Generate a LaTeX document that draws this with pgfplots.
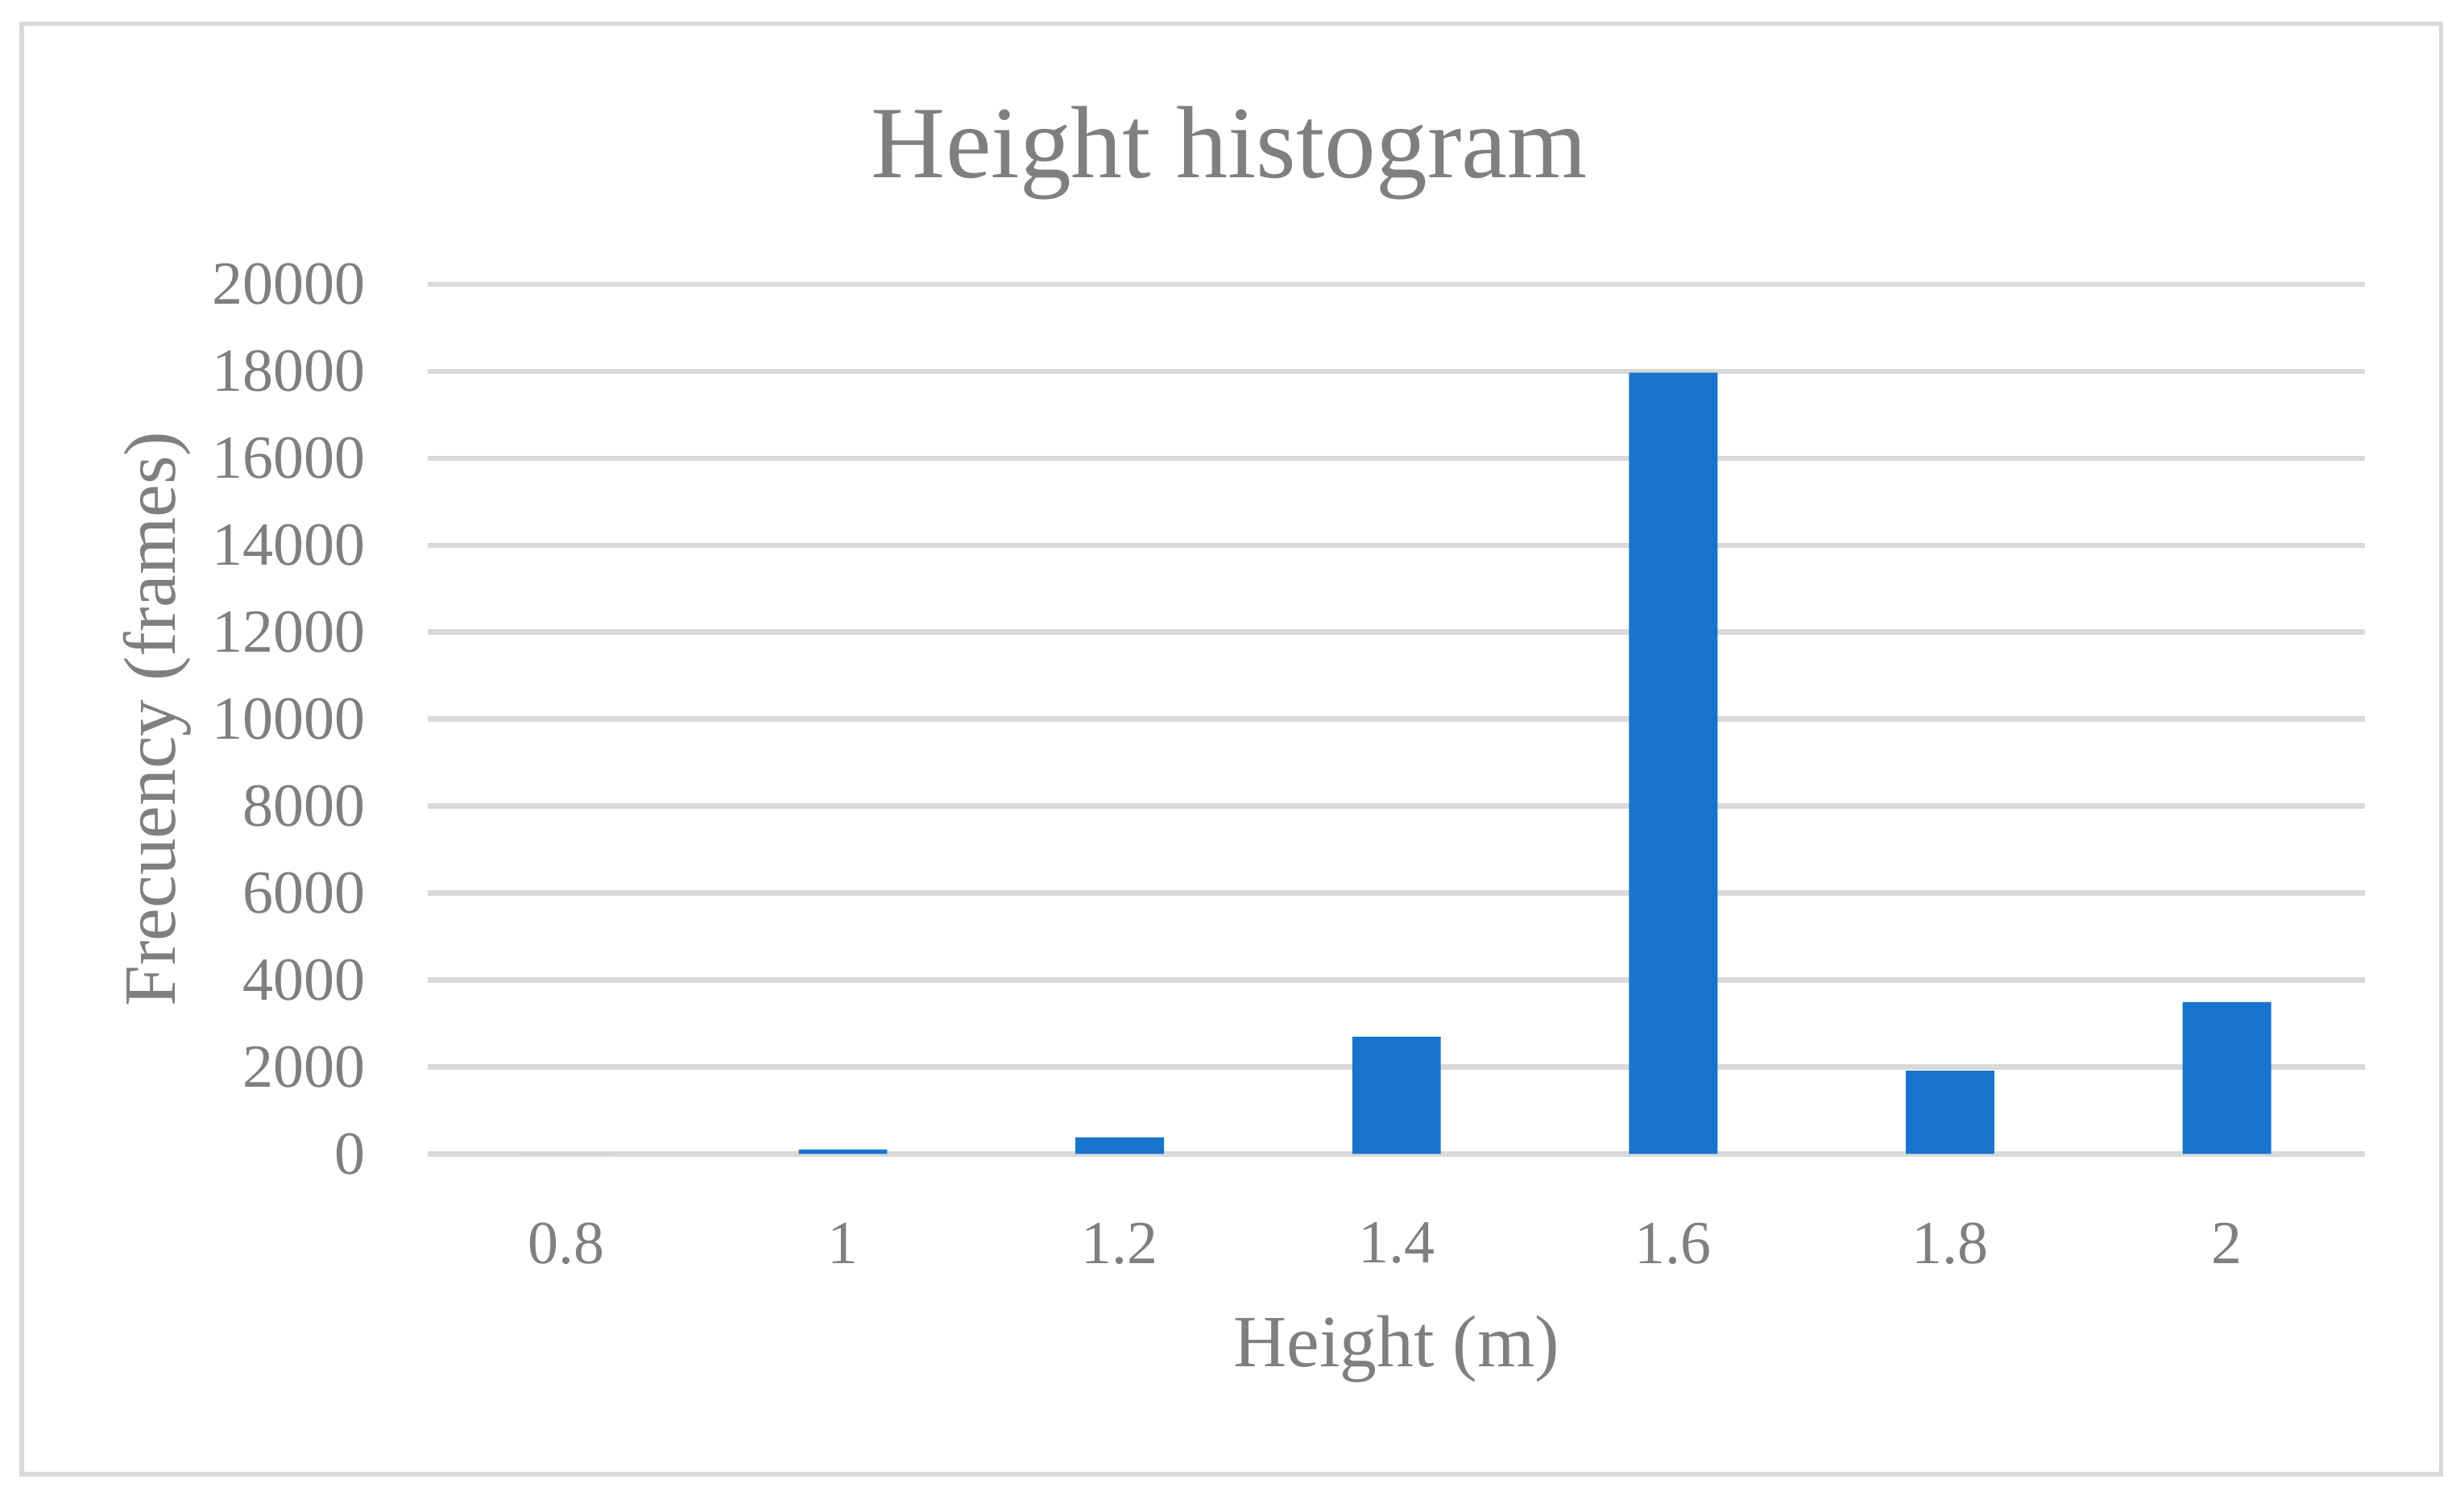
\documentclass[border=0pt]{standalone}
\usepackage{fontspec}
\setmainfont{Liberation Serif}
\usepackage{pgfplots}
\pgfplotsset{compat=1.18}
\definecolor{barblue}{HTML}{1874CD}
\definecolor{gridgray}{HTML}{D9D9D9}
\definecolor{txtgray}{HTML}{7F7F7F}

\begin{document}
\begin{tikzpicture}
  \useasboundingbox (-65.0pt,-52.5pt) rectangle (309.4pt,175.3pt);
  \draw[gridgray, line width=0.7pt] (-61.7pt,-48.7pt) rectangle (305.9pt,171.7pt);
  \node[txtgray, font=\fontsize{15.6}{17}\selectfont] at (121.8pt,152.0pt) {Height histogram};
  \begin{axis}[
      at={(0pt,0pt)}, anchor=south west,
      width=294.4pt, height=132.1pt, scale only axis,
      xmin=-0.5, xmax=6.5,
      ymin=0, ymax=20000,
      ytick={0,2000,...,20000},
      xtick={0,1,2,3,4,5,6},
      xticklabels={0.8,1,1.2,1.4,1.6,1.8,2},
      scaled y ticks=false,
      /pgf/number format/assume math mode=true,
      /pgf/number format/fixed,
      /pgf/number format/1000 sep={},
      tick style={draw=none},
      major tick length=0pt,
      axis line style={draw=none},
      ymajorgrids,
      grid style={draw=gridgray, line width=0.8pt},
      ticklabel style={font=\fontsize{9.3}{10}\selectfont, text=txtgray},
      yticklabel style={anchor=east, inner sep=0pt, xshift=-9.3pt},
      xticklabel style={anchor=center, inner sep=0pt, yshift=-13.6pt},
      xlabel={Height (m)},
      ylabel={Frecuency (frames)},
      label style={font=\fontsize{11.2}{13}\selectfont, text=txtgray},
      xlabel style={at={(axis description cs:0.5,0)}, anchor=center, yshift=-29.6pt},
      ylabel style={at={(axis description cs:0,0.5)}, anchor=center, yshift=41.1pt},
      ybar, bar width=0.32,
    ]
    \addplot[fill=barblue, draw=none] coordinates {
      (0,0) (1,100) (2,377) (3,2695) (4,17970) (5,1910) (6,3490)
    };
  \end{axis}
\end{tikzpicture}
\end{document}
